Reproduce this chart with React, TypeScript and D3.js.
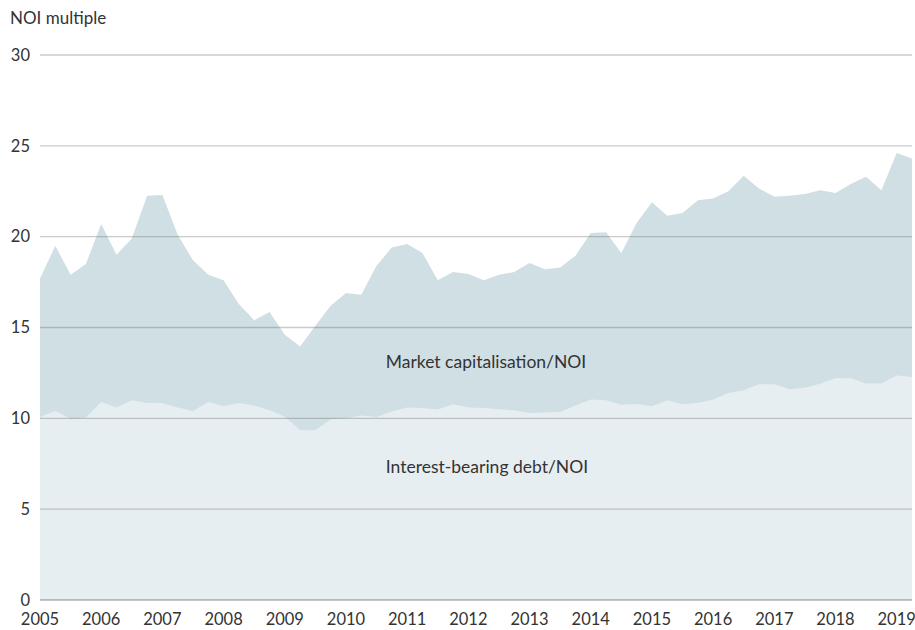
import React from 'react';
import * as d3 from 'd3';

// quarterly values, 2005 Q1 .. 2019 Q2
const marketCapNoi = [
  17.7, 19.5, 17.9, 18.5, 20.7, 19.0, 19.9, 22.25, 22.3, 20.1, 18.7, 17.9, 17.6, 16.3, 15.4, 15.85,
  14.6, 13.95, 15.1, 16.2, 16.9, 16.8, 18.4, 19.4, 19.6, 19.1, 17.6, 18.05, 17.95, 17.6, 17.9, 18.05,
  18.55, 18.2, 18.3, 18.95, 20.2, 20.25, 19.1, 20.75, 21.9, 21.15, 21.3, 22.0, 22.1, 22.5, 23.35, 22.65,
  22.2, 22.25, 22.35, 22.55, 22.4, 22.9, 23.3, 22.55, 24.6, 24.3,
];

const debtNoi = [
  10.07, 10.4, 9.98, 10.04, 10.9, 10.6, 11.0, 10.85, 10.85, 10.6, 10.4, 10.9, 10.66, 10.85, 10.7, 10.44,
  10.1, 9.35, 9.35, 9.95, 10.0, 10.16, 10.07, 10.38, 10.6, 10.57, 10.49, 10.77, 10.6, 10.57, 10.5, 10.44,
  10.3, 10.32, 10.35, 10.7, 11.03, 11.0, 10.75, 10.79, 10.66, 10.99, 10.77, 10.84, 11.04, 11.4, 11.54, 11.87,
  11.87, 11.6, 11.68, 11.9, 12.2, 12.2, 11.92, 11.92, 12.36, 12.27,
];

const yearLabels = ['2005', '2006', '2007', '2008', '2009', '2010', '2011', '2012', '2013', '2014', '2015', '2016', '2017', '2018', '2019'];
const yTicks = [0, 5, 10, 15, 20, 25, 30];

const W = 915;
const H = 630;
const margin = { top: 55, right: 3, bottom: 30, left: 40 };
const font = 'Lato, "Open Sans", sans-serif';

export default function App() {
  const x = d3.scaleLinear()
    .domain([0, marketCapNoi.length - 1])
    .range([margin.left, W - margin.right]);

  const y = d3.scaleLinear()
    .domain([0, 30])
    .range([H - margin.bottom, margin.top]);

  const area = d3.area<number>()
    .x((_, i) => x(i))
    .y0(y(0))
    .y1(d => y(d));

  return (
    <svg width={W} height={H} style={{ position: 'absolute', left: 0, top: 0, display: 'block' }}>
      <rect width={W} height={H} fill="#fff" />
      <path d={area(marketCapNoi) || ''} fill="#d0dfe4" />
      <path d={area(debtNoi) || ''} fill="#e7eef1" />

      {/* grid */}
      {yTicks.map(t => (
        <g key={t}>
          <line x1={margin.left} x2={W - margin.right} y1={y(t)} y2={y(t)}
            stroke="#666" strokeOpacity={t === 0 ? 0.5 : 0.35} strokeWidth={1.3} />
          <text x={30} y={y(t)} dy="0.35em" textAnchor="end" fontFamily={font} fontSize={16.5} fill="#333">{t}</text>
        </g>
      ))}

      {yearLabels.map((lab, i) => (
        <text key={lab} x={x(i * 4)} y={625} textAnchor="middle" fontFamily={font} fontSize={16.5} fill="#333">{lab}</text>
      ))}

      <text x={10} y={24} fontFamily={font} fontSize={17} fill="#333">NOI multiple</text>
      <text x={486} y={368} textAnchor="middle" fontFamily={font} fontSize={17.5} fill="#333">Market capitalisation/NOI</text>
      <text x={487} y={473} textAnchor="middle" fontFamily={font} fontSize={17.5} fill="#333">Interest-bearing debt/NOI</text>
    </svg>
  );
}
